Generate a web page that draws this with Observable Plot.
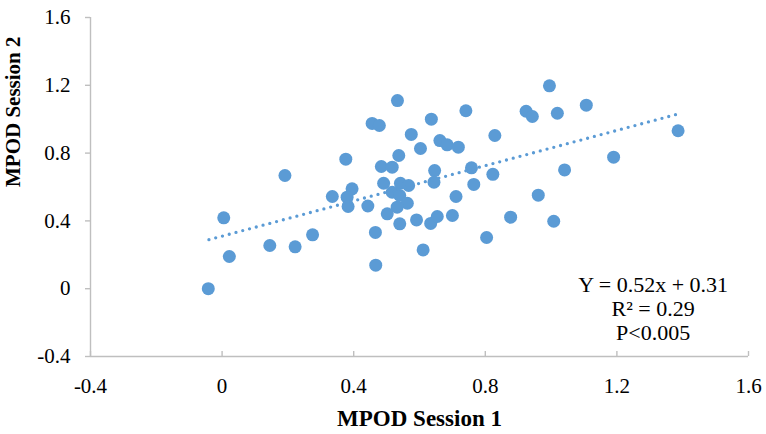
<!DOCTYPE html>
<html>
<head>
<meta charset="utf-8">
<script src="https://cdn.jsdelivr.net/npm/d3@7"></script>
<script src="https://cdn.jsdelivr.net/npm/@observablehq/plot@0.6"></script>
<style>
  html, body { margin: 0; padding: 0; background: #fff; }
  #chart { width: 766px; height: 434px; }
</style>
</head>
<body>
<div id="chart"></div>
<script>
// MPOD Session 1 (x) and MPOD Session 2 (y)
const session1 = [
  -0.042, 0.022, 0.005, 0.145, 0.222, 0.275, 0.191, 0.376, 0.335, 0.395,
  0.380, 0.383, 0.443, 0.456, 0.478, 0.466, 0.467, 0.533, 0.575, 0.636,
  0.741, 0.662, 0.684, 0.718, 0.603, 0.537, 0.484, 0.517, 0.646, 0.644,
  0.758, 0.765, 0.823, 0.829, 0.491, 0.542, 0.567, 0.517, 0.540, 0.563,
  0.532, 0.502, 0.711, 0.961, 0.877, 1.008, 0.540, 0.591, 0.634, 0.654,
  0.700, 0.804, 0.611, 0.924, 0.943, 0.995, 1.019, 1.107, 1.386, 1.190,
  1.041
];
const session2 = [
  0.000, 0.190, 0.418, 0.255, 0.247, 0.318, 0.668, 0.764, 0.544, 0.589,
  0.540, 0.485, 0.488, 0.975, 0.963, 0.332, 0.139, 1.110, 0.910, 1.000,
  1.050, 0.874, 0.849, 0.835, 0.827, 0.786, 0.721, 0.717, 0.697, 0.628,
  0.713, 0.615, 0.675, 0.904, 0.622, 0.622, 0.609, 0.569, 0.550, 0.504,
  0.481, 0.442, 0.544, 0.552, 0.422, 0.398, 0.383, 0.406, 0.385, 0.426,
  0.432, 0.302, 0.229, 1.047, 1.016, 1.197, 1.035, 1.083, 0.932, 0.776,
  0.701
];

// Linear trend line as stated in the chart
const trendSlope = 0.52;
const trendIntercept = 0.31;
const trendXRange = [-0.04, 1.39];

const xTicks = [-0.4, 0, 0.4, 0.8, 1.2, 1.6];
const yTicks = [-0.4, 0, 0.4, 0.8, 1.2, 1.6];

const xTitle = "MPOD Session 1";
const yTitle = "MPOD Session 2";
const annotationLines = ["Y = 0.52x + 0.31", "R\u00B2 = 0.29", "P<0.005"];
const annotationAt = {x: 1.31, y: -0.115};

const points = session1.map((x, i) => ({x, y: session2[i]}));
const trend = trendXRange.map(x => ({x, y: trendSlope * x + trendIntercept}));

const blue = "#5B9BD5";
const gray = "#BFBFBF";
const serif = "'Liberation Serif', 'Times New Roman', serif";

const chart = Plot.plot({
  width: 766,
  height: 434,
  marginLeft: 90,
  marginRight: 18,
  marginTop: 17,
  marginBottom: 78,
  style: {fontFamily: serif, fontSize: "21px", background: "#fff", color: "#000"},
  x: {domain: [-0.4, 1.6]},
  y: {domain: [-0.4, 1.6]},
  marks: [
    Plot.ruleY([-0.4], {stroke: gray, strokeWidth: 1.4}),
    Plot.ruleX([-0.4], {stroke: gray, strokeWidth: 1.4}),
    Plot.axisX({
      ticks: xTicks, tickFormat: d => String(d), tickSize: -5, tickPadding: 27,
      stroke: gray, strokeWidth: 1.4, fontSize: 21, label: null
    }),
    Plot.axisY({
      ticks: yTicks, tickFormat: d => String(d), tickSize: 5, tickPadding: 15,
      stroke: gray, strokeWidth: 1.4, fontSize: 21, label: null
    }),
    Plot.dot(points, {x: "x", y: "y", r: 6.5, fill: blue, stroke: "none"}),
    Plot.line(trend, {
      x: "x", y: "y", stroke: blue, strokeWidth: 3.3,
      strokeDasharray: "0 7", strokeLinecap: "round"
    }),
    Plot.text([annotationLines.join("\n")], {
      x: () => annotationAt.x, y: () => annotationAt.y,
      fontSize: 22, lineHeight: 1.09, textAnchor: "middle", lineAnchor: "middle", fill: "#000"
    }),
    Plot.text([xTitle], {
      frameAnchor: "bottom", lineAnchor: "top", dy: 53,
      fontSize: 23, fontWeight: "bold", fill: "#000"
    }),
    Plot.text([yTitle], {
      frameAnchor: "left", rotate: -90, dx: -77, lineAnchor: "middle",
      fontSize: 21, fontWeight: "bold", fill: "#000"
    })
  ]
});

document.getElementById("chart").appendChild(chart);
</script>
</body>
</html>
